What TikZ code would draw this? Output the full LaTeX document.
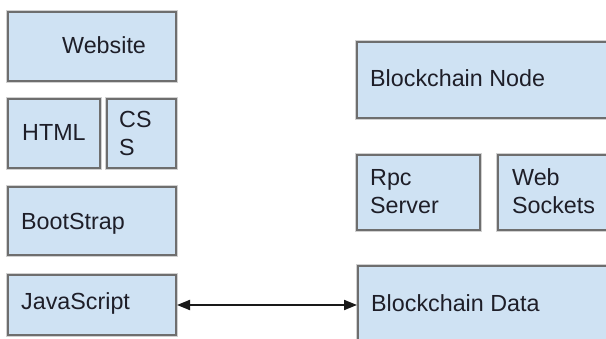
\documentclass[tikz,border=0pt]{standalone}
\usepackage{fontspec}
\setmainfont{Liberation Sans}
\usetikzlibrary{arrows.meta}
\definecolor{boxfill}{HTML}{CFE2F3}
\definecolor{boxline}{HTML}{6E6E6E}
\definecolor{txt}{HTML}{1E1E28}
\begin{document}
\begin{tikzpicture}[x=1pt,y=-1pt,
  box/.style={draw=boxline, fill=boxfill, line width=2pt,
    preaction={draw=black!18, line width=4pt}},
  lbl/.style={anchor=base west, inner sep=0pt, text=txt, align=left,
    font=\fontsize{23.3}{28.5}\selectfont},
  conn/.style={draw=black!90, line width=2pt,
    {Triangle[length=13pt,width=10pt]}-{Triangle[length=13pt,width=10pt]}}]
\useasboundingbox (0,0) rectangle (606,339);
\fill[white] (0,0) rectangle (606,339);
% boxes
\node[box, minimum width=168pt, minimum height=69pt, anchor=north west] (website) at (7,11) {};
\node[box, minimum width=92pt, minimum height=69pt, anchor=north west] (html) at (7,98) {};
\node[box, minimum width=69pt, minimum height=69pt, anchor=north west] (css) at (106,98) {};
\node[box, minimum width=168pt, minimum height=68pt, anchor=north west] (bootstrap) at (7,186) {};
\node[box, minimum width=168pt, minimum height=60pt, anchor=north west] (js) at (7,274) {};
\node[box, minimum width=264pt, minimum height=76pt, anchor=north west] (bnode) at (356,41) {};
\node[box, minimum width=123pt, minimum height=75pt, anchor=north west] (rpc) at (356,154) {};
\node[box, minimum width=123pt, minimum height=75pt, anchor=north west] (ws) at (497,154) {};
\node[box, minimum width=263pt, minimum height=85pt, anchor=north west] (bdata) at (357,265) {};
% labels
\node[lbl] (twebsite) at (62,54) {Website};
\node[lbl] (thtml) at (22,141) {HTML};
\node[lbl] (tcss) at (119,156) {CS\\S};
\node[lbl] (tbootstrap) at (21,230) {BootStrap};
\node[lbl] (tjs) at (21,310) {JavaScript};
\node[lbl] (tbnode) at (370,87) {Blockchain Node};
\node[lbl] (trpc) at (370,214) {Rpc\\Server};
\node[lbl] (tws) at (512,214) {Web\\Sockets};
\node[lbl] (tbdata) at (371,312) {Blockchain Data};
% connector
\draw[conn] (js.east) -- (js.east -| bdata.west);
\end{tikzpicture}
\end{document}
